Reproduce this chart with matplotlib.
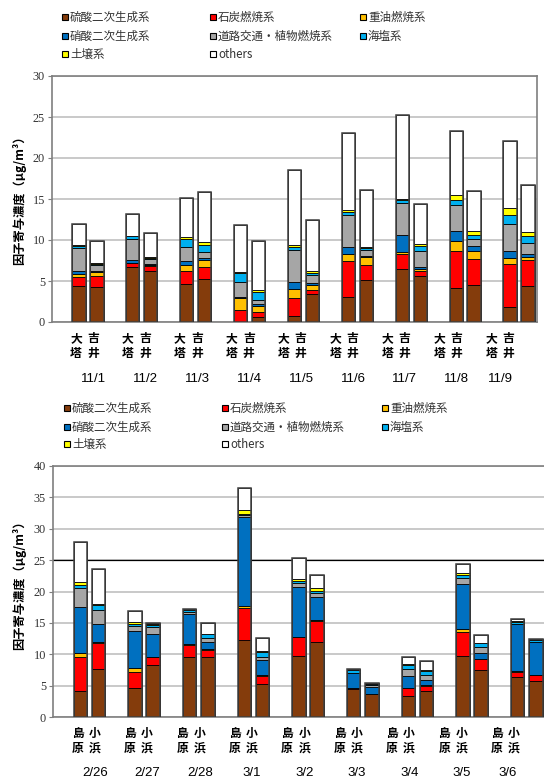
import numpy as np
import matplotlib
matplotlib.use('Agg')
import matplotlib.pyplot as plt
from matplotlib.patches import Rectangle

plt.rcParams['font.family'] = ['Noto Sans CJK JP', 'DejaVu Sans']

# factor names (stack order, bottom -> top)
factors = ['硫酸二次生成系', '石炭燃焼系', '重油燃焼系', '硝酸二次生成系',
           '道路交通・植物燃焼系', '海塩系', '土壌系', 'others']
colors = ['#843C0C', '#FF0000', '#FFC000', '#0070C0',
          '#A6A6A6', '#00B0F0', '#FFFF00', '#FFFFFF']

# ---- upper chart: 大塔 / 吉井, 11/1 - 11/9 ----
top_dates = ['11/1', '11/2', '11/3', '11/4', '11/5', '11/6', '11/7', '11/8', '11/9']
top_sites = ['大\n塔', '吉\n井']
# each list: [11/1 大塔, 11/1 吉井, 11/2 大塔, ...]
top_sulfate = [4.35, 4.27, 6.7, 6.25, 4.63, 5.28, 0.05, 0.57, 0.77, 3.41, 3.05, 5.16, 6.5, 5.57, 4.15, 4.55, 1.83, 4.43]
top_coal    = [1.15, 1.38, 0.5, 0.6, 1.55, 1.42, 1.37, 0.6, 2.2, 0.45, 4.35, 1.84, 1.8, 0.69, 4.55, 3.17, 5.24, 3.09]
top_oil     = [0.3, 0.45, 0.05, 0.1, 0.72, 0.9, 1.48, 0.82, 1.1, 0.69, 0.9, 0.93, 0.28, 0.2, 1.18, 0.98, 0.69, 0.41]
top_nitrate = [0.4, 0.1, 0.35, 0.1, 0.58, 0.2, 0.15, 0.15, 0.85, 0.2, 0.85, 0.17, 2.0, 0.24, 1.26, 0.53, 0.86, 0.4]
top_road    = [2.8, 0.7, 2.55, 0.65, 1.72, 0.7, 1.83, 0.5, 3.9, 0.95, 3.95, 0.72, 3.93, 2.0, 3.09, 0.89, 3.38, 1.3]
top_sea     = [0.25, 0.2, 0.3, 0.1, 0.9, 0.85, 1.1, 0.96, 0.33, 0.25, 0.3, 0.2, 0.34, 0.6, 0.61, 0.53, 1.0, 0.82]
top_soil    = [0.1, 0.1, 0.05, 0.1, 0.26, 0.35, 0.1, 0.26, 0.28, 0.23, 0.3, 0.18, 0.15, 0.25, 0.69, 0.49, 0.94, 0.53]
top_others  = [2.55, 2.65, 2.7, 3.0, 4.79, 6.15, 5.8, 6.04, 9.07, 6.3, 9.3, 6.9, 10.2, 4.8, 7.8, 4.79, 8.16, 5.77]

# ---- lower chart: 島原 / 小浜, 2/26 - 3/6 ----
bot_dates = ['2/26', '2/27', '2/28', '3/1', '3/2', '3/3', '3/4', '3/5', '3/6']
bot_sites = ['島\n原', '小\n浜']
bot_sulfate = [4.14, 7.6, 4.57, 8.23, 9.5, 9.61, 12.21, 5.2, 9.77, 12.0, 4.51, 3.61, 3.4, 4.14, 9.72, 7.49, 6.32, 5.79]
bot_coal    = [5.36, 4.14, 2.65, 1.27, 1.97, 1.06, 5.1, 1.39, 2.92, 3.35, 0.1, 0.05, 1.17, 0.8, 3.77, 1.7, 0.9, 0.9]
bot_oil     = [0.64, 0.16, 0.53, 0.05, 0.1, 0.1, 0.43, 0.1, 0.1, 0.05, 0.05, 0.05, 0.1, 0.1, 0.53, 0.1, 0.1, 0.05]
bot_nitrate = [7.44, 2.97, 6.0, 3.67, 4.84, 1.13, 14.18, 2.39, 7.98, 3.67, 2.3, 1.02, 1.92, 0.85, 7.17, 0.85, 7.44, 5.15]
bot_road    = [2.92, 2.18, 0.75, 1.07, 0.37, 0.63, 0.2, 0.53, 0.53, 0.63, 0.1, 0.3, 1.06, 0.8, 1.01, 0.96, 0.1, 0.05]
bot_sea     = [0.53, 0.79, 0.37, 0.37, 0.2, 0.64, 0.17, 0.79, 0.37, 0.37, 0.4, 0.2, 0.63, 0.69, 0.42, 0.64, 0.3, 0.32]
bot_soil    = [0.42, 0.16, 0.32, 0.1, 0.1, 0.1, 0.64, 0.17, 0.32, 0.43, 0.05, 0.05, 0.1, 0.1, 0.27, 0.1, 0.1, 0.05]
bot_others  = [6.43, 5.58, 1.7, 0.16, 0.07, 1.65, 3.61, 2.08, 3.39, 2.07, 0.15, 0.2, 1.18, 1.44, 1.49, 1.22, 0.3, 0.1]

W, H = 544, 781
fig = plt.figure(figsize=(W / 100, H / 100), dpi=100)


def px_axes(left, top, right, bottom):
    return fig.add_axes([left / W, 1 - bottom / H, (right - left) / W, (bottom - top) / H])


def draw_legend(cols, rows):
    for k, name in enumerate(factors):
        x = cols[k % 3]
        y = rows[k // 3]
        fig.patches.append(Rectangle(((x - 3) / W, 1 - (y + 3) / H), 6 / W, 6 / H,
                                     transform=fig.transFigure, facecolor=colors[k],
                                     edgecolor='black', lw=0.8))
        fig.text((x + 5) / W, 1 - y / H, name, fontsize=8.3, color='#333333',
                 va='center', ha='left')


def draw_panel(ax, series, ymax, ylabel_y, sites, dates, site_x0, site_dx,
               site_y, date_y, last_date_x, ref_line=None):
    n = len(series[0])
    groups = n // 2
    x = np.array([3 * (i // 2) + 1.5 + (i % 2) for i in range(n)])
    bottom = np.zeros(n)
    for vals, c in zip(series, colors):
        vals = np.array(vals)
        ax.bar(x, vals, width=0.74, bottom=bottom, color=c, edgecolor='black',
               linewidth=0.6, zorder=3)
        bottom += vals
    # outline of the whole bar
    ax.bar(x, bottom, width=0.74, fill=False, edgecolor='#404040', linewidth=1.1, zorder=4)

    ax.set_xlim(0, 27)
    ax.set_ylim(0, ymax)
    ticks = np.arange(0, ymax + 1, 5)
    ax.set_yticks(ticks)
    ax.set_yticklabels([str(int(t)) for t in ticks], family='Liberation Serif')
    ax.set_xticks([])
    ax.yaxis.grid(True, color='#C0C0C0', linewidth=1.2, zorder=0)
    ax.set_axisbelow(True)
    if ref_line is not None:
        ax.axhline(ref_line, color='black', linewidth=0.9, zorder=1)
    for s in ax.spines.values():
        s.set_color('#7F7F7F')
        s.set_linewidth(1.2)
    ax.tick_params(axis='y', direction='out', length=3, color='#7F7F7F',
                   labelsize=8.8, labelcolor='#333333', pad=2)

    fig.text(19 / W, 1 - ylabel_y / H, '因子寄与濃度（μg/m³）', rotation=90,
             fontsize=8.8, fontweight='bold', ha='center', va='center')

    for g in range(groups):
        for j in range(2):
            fig.text((site_x0 + g * site_dx + j * 17) / W, 1 - site_y / H, sites[j],
                     fontsize=8.5, fontweight='bold', ha='center', va='center',
                     linespacing=1.15)
        dx = site_x0 + 17.5 + g * site_dx if g < groups - 1 else last_date_x
        fig.text(dx / W, 1 - date_y / H, dates[g], fontsize=9.5,
                 family='Liberation Sans', ha='center', va='center')


top_series = [top_sulfate, top_coal, top_oil, top_nitrate, top_road, top_sea, top_soil, top_others]
bot_series = [bot_sulfate, bot_coal, bot_oil, bot_nitrate, bot_road, bot_sea, bot_soil, bot_others]

draw_legend([65, 213, 363], [17, 36, 54])
ax1 = px_axes(52, 76, 537, 322)
draw_panel(ax1, top_series, 30, 197, top_sites, top_dates, 76, 51.9, 346, 379, 500)

draw_legend([67, 225, 385], [408, 427, 444])
ax2 = px_axes(53, 466, 545, 717)
draw_panel(ax2, bot_series, 40, 582, bot_sites, bot_dates, 77.5, 52.4, 741, 773, 508, ref_line=25)

fig.savefig('out.png', dpi=100)
